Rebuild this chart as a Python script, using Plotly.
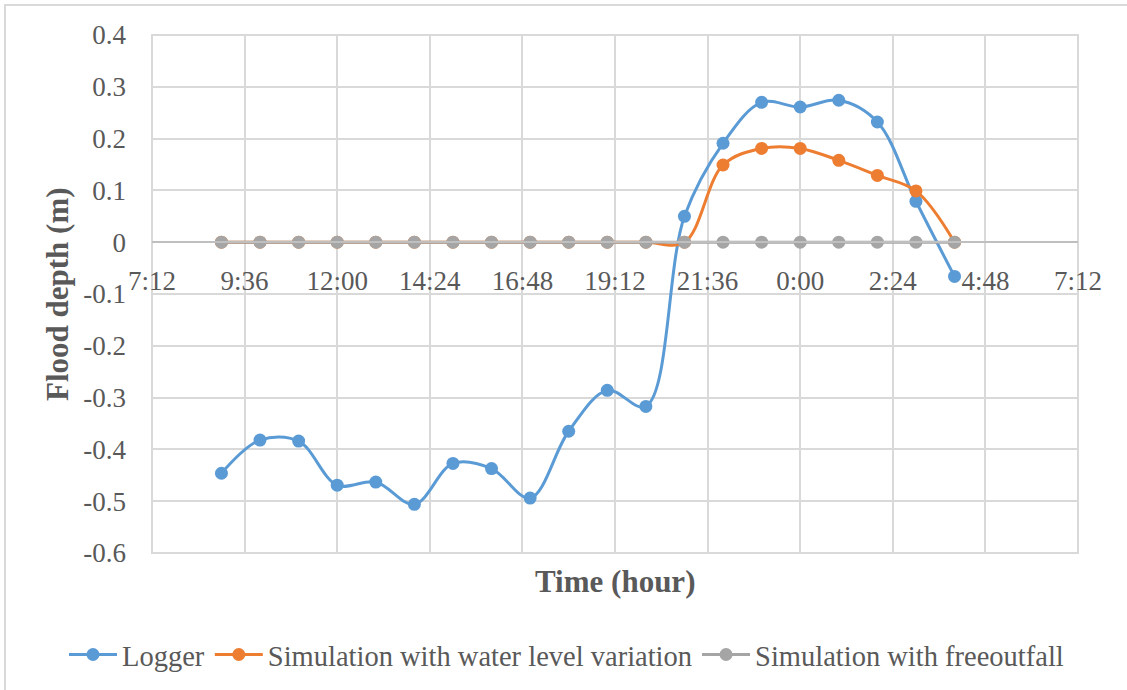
import plotly.graph_objects as go
import pandas as pd

# Hourly observation times, 09:00 on day 1 through 04:00 on day 2
times = pd.date_range("2020-01-01 09:00", "2020-01-02 04:00", freq="h")

logger = [-0.446, -0.382, -0.384, -0.469, -0.463, -0.506, -0.427, -0.437, -0.494, -0.365,
          -0.286, -0.317, 0.050, 0.191, 0.270, 0.261, 0.274, 0.232, 0.079, -0.066]
sim_water_level = [0, 0, 0, 0, 0, 0, 0, 0, 0, 0,
                   0, 0, 0, 0.149, 0.181, 0.181, 0.158, 0.129, 0.099, 0]
sim_free_outfall = [0] * 20

y_tick_vals = [0.4, 0.3, 0.2, 0.1, 0, -0.1, -0.2, -0.3, -0.4, -0.5, -0.6]
y_tick_text = ["0.4", "0.3", "0.2", "0.1", "0", "-0.1", "-0.2", "-0.3", "-0.4", "-0.5", "-0.6"]

x_start = "2020-01-01 07:12"
x_end = "2020-01-02 07:12"
x_step_ms = 2.4 * 3600 * 1000

FONT = "Liberation Serif, Times New Roman, serif"
TEXT = "#595959"
GRID = "#d9d9d9"

series = [
    ("Logger", logger, "#5B9BD5"),
    ("Simulation with water level variation", sim_water_level, "#ED7D31"),
    ("Simulation with freeoutfall", sim_free_outfall, "#A5A5A5"),
]

fig = go.Figure()
for name, vals, color in series:
    fig.add_trace(go.Scatter(
        x=times, y=vals, name=name, mode="lines+markers",
        line=dict(color=color, width=3, shape="spline", smoothing=1),
        marker=dict(color=color, size=13),
    ))

W, H = 1127, 690
L, R, T, B = 152, 49, 35, 137
pw, ph = W - L - R, H - T - B

fig.update_layout(
    width=W, height=H,
    margin=dict(l=L, r=R, t=T, b=B, autoexpand=False),
    paper_bgcolor="white", plot_bgcolor="white",
    font=dict(family=FONT, color=TEXT, size=27),
    showlegend=True,
    legend=dict(
        orientation="h", xanchor="left", yanchor="middle",
        x=(64 - L) / pw, y=(T + ph - 655) / ph,
        font=dict(size=28.5, color=TEXT), itemwidth=48,
        bgcolor="rgba(0,0,0,0)",
    ),
    xaxis=dict(
        type="date", range=[x_start, x_end],
        tick0=x_start, dtick=x_step_ms, tickformat="%-H:%M",
        showgrid=True, gridcolor=GRID, gridwidth=2,
        anchor="free", position=0.6,
        showline=True, linecolor="#bfbfbf", linewidth=2,
        ticks="", ticklabelstandoff=14,
        tickfont=dict(size=27, color=TEXT),
        zeroline=False,
    ),
    yaxis=dict(
        range=[-0.6, 0.4], tickvals=y_tick_vals, ticktext=y_tick_text,
        showgrid=True, gridcolor=GRID, gridwidth=2,
        zeroline=False, showline=False, ticks="",
        ticklabelstandoff=25,
        tickfont=dict(size=27, color=TEXT),
    ),
    annotations=[
        dict(text="<b>Flood depth (m)</b>", textangle=-90,
             xref="paper", yref="paper", x=(57 - L) / pw, y=0.5,
             xanchor="center", yanchor="middle", showarrow=False,
             font=dict(size=31, color=TEXT, family=FONT)),
        dict(text="<b>Time (hour)</b>",
             xref="paper", yref="paper", x=0.5, y=(T + ph - 581) / ph,
             xanchor="center", yanchor="middle", showarrow=False,
             font=dict(size=31, color=TEXT, family=FONT)),
    ],
    shapes=[
        # plot-area frame
        dict(type="rect", xref="paper", yref="paper", x0=0, x1=1, y0=0, y1=1,
             line=dict(color=GRID, width=2), layer="below"),
        # outer chart border
        dict(type="rect", xref="paper", yref="paper",
             x0=(5 - L) / pw, x1=(W + 20 - L) / pw,
             y0=(T + ph - (H + 20)) / ph, y1=(T + ph - 5) / ph,
             line=dict(color=GRID, width=2), layer="below"),
    ],
)

fig.write_html("out.html")
